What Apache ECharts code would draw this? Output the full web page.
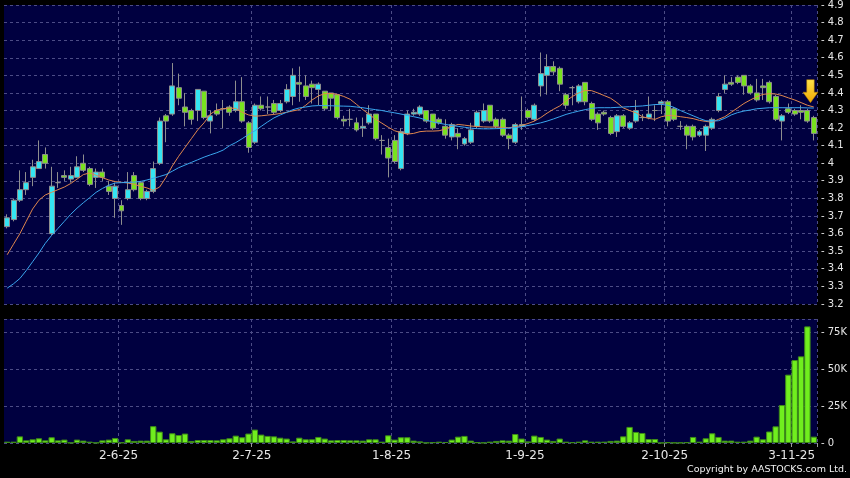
<!DOCTYPE html>
<html>
<head>
<meta charset="utf-8">
<script src="https://cdn.jsdelivr.net/npm/echarts@6/dist/echarts.min.js"></script>
<style>
  html, body { margin: 0; padding: 0; background: #000; }
  #main { width: 850px; height: 478px; }
</style>
</head>
<body>
<div id="main"></div>
<script>
// trading days, D-M-YY
const dates = [
  "7-5-25","8-5-25","9-5-25","12-5-25","13-5-25","14-5-25","15-5-25","16-5-25","19-5-25","20-5-25",
  "21-5-25","22-5-25","23-5-25","26-5-25","27-5-25","28-5-25","29-5-25","30-5-25",
  "2-6-25","3-6-25","4-6-25","5-6-25","6-6-25","9-6-25","10-6-25","11-6-25","12-6-25","13-6-25",
  "16-6-25","17-6-25","18-6-25","19-6-25","20-6-25","23-6-25","24-6-25","25-6-25","26-6-25","27-6-25","30-6-25",
  "2-7-25","3-7-25","4-7-25","7-7-25","8-7-25","9-7-25","10-7-25","11-7-25","14-7-25","15-7-25",
  "16-7-25","17-7-25","18-7-25","21-7-25","22-7-25","23-7-25","24-7-25","25-7-25","28-7-25","29-7-25","30-7-25","31-7-25",
  "1-8-25","4-8-25","5-8-25","6-8-25","7-8-25","8-8-25","11-8-25","12-8-25","13-8-25","14-8-25","15-8-25",
  "18-8-25","19-8-25","20-8-25","21-8-25","22-8-25","25-8-25","26-8-25","27-8-25","28-8-25","29-8-25",
  "1-9-25","2-9-25","3-9-25","4-9-25","5-9-25","8-9-25","9-9-25","10-9-25","11-9-25","12-9-25",
  "15-9-25","16-9-25","17-9-25","18-9-25","19-9-25","22-9-25","23-9-25","24-9-25","25-9-25","26-9-25","29-9-25","30-9-25",
  "2-10-25","3-10-25","6-10-25","8-10-25","9-10-25","10-10-25","13-10-25","14-10-25","15-10-25","16-10-25","17-10-25",
  "20-10-25","21-10-25","22-10-25","23-10-25","24-10-25","27-10-25","28-10-25","30-10-25","31-10-25",
  "3-11-25","4-11-25","5-11-25","6-11-25"
];

// dates that get a label + vertical grid line
const tickLabels = ["2-6-25", "2-7-25", "1-8-25", "1-9-25", "2-10-25", "3-11-25"];

const open = [
  3.64,3.68,3.79,3.85,3.92,3.97,4.05,3.60,3.89,3.93,3.91,3.92,4.00,3.97,3.92,3.95,3.87,3.80,3.76,3.80,
  3.93,3.89,3.80,3.84,4.00,4.27,4.28,4.43,4.32,4.30,4.30,4.41,4.24,4.30,4.31,4.32,4.30,4.35,4.23,4.12,
  4.33,4.32,4.34,4.30,4.35,4.38,4.46,4.44,4.45,4.42,4.41,4.40,4.39,4.25,4.25,4.23,4.20,4.23,4.28,4.13,
  4.09,4.13,3.97,4.17,4.28,4.28,4.30,4.28,4.25,4.21,4.15,4.17,4.11,4.12,4.21,4.24,4.33,4.25,4.25,4.16,
  4.12,4.21,4.30,4.25,4.44,4.50,4.55,4.54,4.39,4.43,4.35,4.46,4.34,4.28,4.29,4.26,4.18,4.27,4.20,4.24,
  4.26,4.26,4.30,4.34,4.35,4.31,4.21,4.21,4.21,4.16,4.16,4.20,4.30,4.42,4.46,4.49,4.50,4.44,4.40,4.44,
  4.46,4.38,4.24,4.31,4.30,4.30,4.30,4.26
];
const close = [
  3.69,3.79,3.85,3.89,3.98,4.01,4.00,3.87,3.89,3.92,3.93,3.98,3.96,3.88,3.95,3.92,3.84,3.87,3.73,3.85,
  3.85,3.80,3.84,3.97,4.24,4.24,4.44,4.37,4.29,4.25,4.42,4.26,4.27,4.28,4.31,4.29,4.35,4.24,4.09,4.33,
  4.31,4.32,4.29,4.34,4.42,4.50,4.45,4.38,4.43,4.45,4.31,4.37,4.26,4.24,4.25,4.19,4.21,4.28,4.14,4.13,
  4.03,4.01,4.18,4.28,4.29,4.32,4.24,4.20,4.23,4.16,4.22,4.15,4.14,4.19,4.29,4.30,4.24,4.21,4.16,4.14,
  4.22,4.22,4.26,4.33,4.51,4.55,4.52,4.45,4.33,4.43,4.44,4.35,4.25,4.23,4.28,4.17,4.27,4.21,4.23,4.30,
  4.26,4.28,4.30,4.35,4.24,4.25,4.21,4.16,4.15,4.18,4.21,4.25,4.38,4.45,4.45,4.46,4.44,4.40,4.36,4.43,
  4.35,4.25,4.27,4.29,4.28,4.29,4.24,4.17
];
const high = [
  3.71,3.80,3.96,3.95,4.02,4.13,4.09,3.98,3.95,3.96,3.98,4.04,4.05,3.98,3.97,3.97,3.90,3.89,3.79,3.95,
  3.95,3.90,3.85,4.01,4.26,4.28,4.57,4.51,4.40,4.31,4.42,4.41,4.30,4.34,4.36,4.33,4.47,4.49,4.24,4.34,
  4.38,4.38,4.36,4.36,4.45,4.54,4.55,4.50,4.47,4.46,4.41,4.40,4.39,4.27,4.31,4.26,4.26,4.33,4.28,4.16,
  4.14,4.16,4.20,4.30,4.31,4.33,4.30,4.28,4.26,4.25,4.23,4.20,4.15,4.23,4.30,4.34,4.33,4.26,4.26,4.17,
  4.23,4.38,4.31,4.34,4.63,4.62,4.58,4.55,4.40,4.44,4.45,4.46,4.35,4.29,4.30,4.27,4.28,4.28,4.24,4.36,
  4.28,4.38,4.33,4.36,4.36,4.32,4.24,4.22,4.22,4.19,4.22,4.26,4.40,4.50,4.49,4.50,4.50,4.45,4.48,4.48,
  4.47,4.39,4.28,4.34,4.31,4.33,4.31,4.27
];
const low = [
  3.63,3.67,3.78,3.82,3.87,3.97,3.97,3.59,3.86,3.90,3.89,3.92,3.95,3.87,3.86,3.90,3.82,3.69,3.65,3.79,
  3.84,3.79,3.79,3.83,3.99,4.12,4.27,4.33,4.21,4.22,4.24,4.25,4.17,4.27,4.20,4.27,4.29,4.23,4.06,4.11,
  4.30,4.28,4.28,4.29,4.34,4.33,4.35,4.36,4.34,4.33,4.30,4.30,4.25,4.21,4.21,4.18,4.15,4.22,4.13,4.05,
  3.92,4.00,3.96,4.16,4.27,4.27,4.23,4.19,4.22,4.14,4.13,4.08,4.10,4.11,4.20,4.23,4.23,4.20,4.15,4.08,
  4.11,4.19,4.25,4.24,4.38,4.39,4.50,4.41,4.31,4.33,4.34,4.33,4.24,4.19,4.27,4.16,4.15,4.20,4.19,4.23,
  4.24,4.25,4.24,4.28,4.21,4.24,4.19,4.08,4.13,4.15,4.07,4.19,4.29,4.40,4.44,4.45,4.39,4.39,4.35,4.36,
  4.34,4.24,4.13,4.28,4.27,4.25,4.23,4.13
];

// moving averages as drawn on the chart (orange = short, blue = long)
const maShort = [
  3.48,3.54,3.60,3.67,3.74,3.79,3.82,3.835,3.85,3.865,3.885,3.91,3.936,3.945,3.932,3.918,3.905,3.896,3.892,3.888,
  3.88,3.87,3.86,3.846,3.865,3.92,3.985,4.04,4.09,4.14,4.19,4.23,4.28,4.303,4.31,4.314,4.312,4.29,4.275,4.268,
  4.27,4.274,4.278,4.283,4.29,4.298,4.305,4.33,4.36,4.383,4.396,4.397,4.392,4.38,4.364,4.335,4.305,4.278,4.25,4.228,
  4.205,4.185,4.174,4.166,4.17,4.18,4.183,4.183,4.185,4.195,4.21,4.221,4.217,4.212,4.209,4.207,4.206,4.206,4.204,4.202,
  4.208,4.215,4.226,4.24,4.26,4.285,4.307,4.326,4.355,4.38,4.40,4.414,4.413,4.40,4.385,4.37,4.345,4.315,4.30,4.287,
  4.265,4.255,4.25,4.265,4.272,4.27,4.265,4.26,4.254,4.244,4.238,4.234,4.25,4.265,4.29,4.315,4.34,4.36,4.378,4.392,
  4.396,4.394,4.385,4.372,4.36,4.345,4.33,4.32
];
const maLong = [
  3.29,3.315,3.345,3.39,3.44,3.49,3.545,3.59,3.63,3.67,3.71,3.745,3.776,3.805,3.835,3.857,3.875,3.888,3.89,3.891,
  3.893,3.897,3.905,3.915,3.925,3.936,3.955,3.975,3.99,4.005,4.02,4.035,4.048,4.06,4.075,4.10,4.118,4.14,4.164,4.185,
  4.21,4.235,4.258,4.275,4.29,4.305,4.315,4.32,4.326,4.328,4.328,4.327,4.326,4.325,4.324,4.32,4.316,4.31,4.305,4.30,
  4.293,4.287,4.28,4.272,4.265,4.257,4.245,4.235,4.228,4.221,4.215,4.21,4.205,4.20,4.197,4.196,4.196,4.197,4.198,4.20,
  4.203,4.208,4.215,4.222,4.23,4.24,4.252,4.265,4.278,4.288,4.297,4.305,4.312,4.316,4.316,4.316,4.318,4.32,4.322,4.324,
  4.326,4.33,4.334,4.335,4.33,4.318,4.30,4.285,4.27,4.255,4.242,4.24,4.242,4.256,4.275,4.288,4.297,4.303,4.31,4.313,
  4.316,4.316,4.316,4.316,4.316,4.316,4.315,4.314
];

// volume in thousands of shares
const volume = [
  0.9,0.9,4.5,1.8,2.5,3.2,1.8,3.9,1.8,2.3,0.2,2.3,1.6,0.9,0.2,1.8,2.3,3.4,0.3,2.5,
  1.4,1.6,1.6,11.4,7.7,2.5,6.6,5.4,6.4,1.4,2.0,2.0,2.0,1.8,2.5,3.2,5.0,3.9,6.4,9.1,
  5.7,4.8,4.5,3.6,3.0,1.1,3.6,2.5,2.5,4.1,3.0,1.8,2.0,2.0,1.8,1.8,1.6,2.5,2.5,0.9,
  5.2,2.3,3.9,3.9,1.6,1.1,0.2,0.5,0.9,0.7,2.3,4.3,4.8,1.6,0.5,0.2,0.9,1.4,1.8,1.6,
  6.1,3.0,1.1,5.0,4.1,2.3,1.4,3.0,0.9,0.5,0.9,1.8,0.9,0.9,0.9,1.4,1.6,4.5,10.9,7.5,
  6.8,2.7,2.7,0.1,0.5,0.2,0.2,0.5,4.1,0.9,3.2,6.6,4.1,1.6,1.6,0.9,0.9,1.6,4.3,2.5,
  7.8,11.3,25.7,46.3,56.2,58.7,79.0,4.3
];

const candles = dates.map((d, i) => [open[i], close[i], low[i], high[i]]);

const isTick = function (index, value) {
  return tickLabels.indexOf(value) > -1;
};

const gridDash = { color: "#4c4c86", type: [3, 3], width: 1 };
const labelFont = '"DejaVu Sans", sans-serif';

const chart = echarts.init(document.getElementById("main"));
chart.setOption({
  backgroundColor: "#000",
  animation: false,
  grid: [
    { left: 4, right: 33, top: 5, height: 299, show: true, backgroundColor: "#000040", borderWidth: 0 },
    { left: 4, right: 33, top: 319, height: 124, show: true, backgroundColor: "#000040", borderWidth: 0 }
  ],
  xAxis: [
    {
      type: "category", gridIndex: 0, data: dates, boundaryGap: true,
      axisLine: { show: false }, axisTick: { show: false }, axisLabel: { show: false },
      splitLine: { show: true, interval: isTick, lineStyle: gridDash }
    },
    {
      type: "category", gridIndex: 1, data: dates, boundaryGap: true,
      axisLine: { show: false },
      axisTick: { show: true, interval: isTick, length: 4, lineStyle: { color: "#9a9a9a" } },
      axisLabel: {
        interval: isTick, color: "#e6e6e6", fontSize: 12, fontFamily: labelFont,
        margin: 7, padding: [0, 6, 0, 0]
      },
      splitLine: { show: true, interval: isTick, lineStyle: gridDash }
    }
  ],
  yAxis: [
    {
      type: "value", gridIndex: 0, position: "right", min: 3.2, max: 4.9, interval: 0.1,
      axisLine: { show: false }, axisTick: { show: false },
      axisLabel: {
        color: "#e6e6e6", fontSize: 10, fontFamily: labelFont, margin: 4,
        formatter: function (v) { return "- " + Number(v.toFixed(1)); }
      },
      splitLine: { show: true, lineStyle: gridDash }
    },
    {
      type: "value", gridIndex: 1, position: "right", min: 0, max: 84, interval: 25,
      axisLine: { show: false }, axisTick: { show: false },
      axisLabel: {
        color: "#e6e6e6", fontSize: 10, fontFamily: labelFont, margin: 4, showMaxLabel: false,
        formatter: function (v) { return "- " + (v === 0 ? "0" : Math.round(v) + "K"); }
      },
      splitLine: { show: true, lineStyle: gridDash }
    }
  ],
  series: [
    {
      name: "price",
      type: "candlestick",
      xAxisIndex: 0, yAxisIndex: 0,
      data: candles,
      barWidth: "86%",
      itemStyle: {
        color: "#34e4f2",      // rising
        color0: "#78e21e",     // falling
        borderColor: "#8e8e8e",
        borderColor0: "#8e8e8e",
        borderColorDoji: "#8e8e8e",
        borderWidth: 1
      },
      // yellow arrow over the last candles
      markPoint: {
        symbol: "path://M3,0 L9,0 L9,12 L12,12 L6,22 L0,12 L3,12 Z",
        symbolSize: [15, 23],
        symbolOffset: [3, 0],
        label: { show: false },
        itemStyle: {
          color: new echarts.graphic.LinearGradient(0, 0, 0, 1, [
            { offset: 0, color: "#ffe24a" },
            { offset: 1, color: "#f0a800" }
          ]),
          borderColor: "#b07800",
          borderWidth: 0.5
        },
        data: [{ coord: [dates[126], 4.41] }]
      }
    },
    {
      name: "ma short", type: "line", xAxisIndex: 0, yAxisIndex: 0,
      data: maShort, symbol: "none", z: 3,
      lineStyle: { color: "#e0874e", width: 1 }
    },
    {
      name: "ma long", type: "line", xAxisIndex: 0, yAxisIndex: 0,
      data: maLong, symbol: "none", z: 3,
      lineStyle: { color: "#3aa6ee", width: 1 }
    },
    {
      name: "volume", type: "bar", xAxisIndex: 1, yAxisIndex: 1,
      data: volume, barWidth: "100%",
      itemStyle: { color: "#70ee1e", borderColor: "#3e8c18", borderWidth: 1 }
    }
  ],
  graphic: [
    {
      type: "text", right: 3, top: 465,
      style: { text: "Copyright by AASTOCKS.com Ltd.", fill: "#f2f2f2", font: '9.5px "DejaVu Sans"' }
    }
  ]
});
</script>
</body>
</html>
